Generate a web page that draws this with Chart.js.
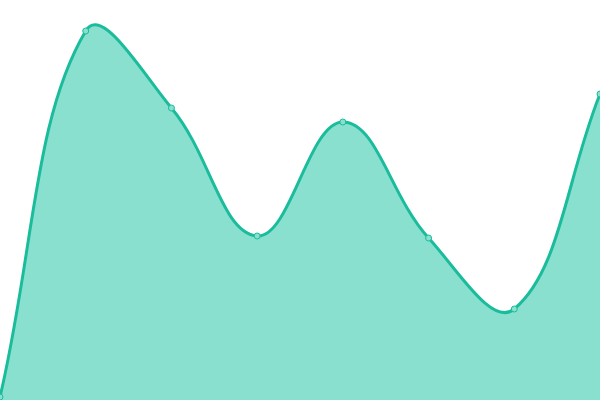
<!DOCTYPE html>
<html>
<head>
<meta charset="utf-8">
<script src="https://cdn.jsdelivr.net/npm/chart.js@4"></script>
<style>
  html, body { margin: 0; padding: 0; background: #fff; }
  #wrap { width: 600px; height: 400px; }
</style>
</head>
<body>
<div id="wrap"><canvas id="chart"></canvas></div>
<script>
// data (hidden y scale, 0..400)
const labels = ['1', '2', '3', '4', '5', '6', '7', '8'];
const values = [3, 369, 292, 164, 278, 162, 91, 306];

const lineColor = '#1abc9c';

new Chart(document.getElementById('chart'), {
    type: 'line',
    data: {
        labels: labels,
        datasets: [{
            data: values,
            borderColor: lineColor,
            backgroundColor: '#8ae0cf',
            borderWidth: 3,
            fill: true,
            tension: 0.4,
            pointRadius: 3,
            pointBorderWidth: 1,
            pointBorderColor: lineColor,
            pointBackgroundColor: '#8ae0cf'
        }]
    },
    options: {
        responsive: true,
        maintainAspectRatio: false,
        animation: false,
        layout: { padding: 0, autoPadding: false },
        scales: {
            x: { display: false },
            y: { display: false, min: 0, max: 400 }
        },
        plugins: { legend: { display: false }, tooltip: { enabled: false } }
    }
});
</script>
</body>
</html>
